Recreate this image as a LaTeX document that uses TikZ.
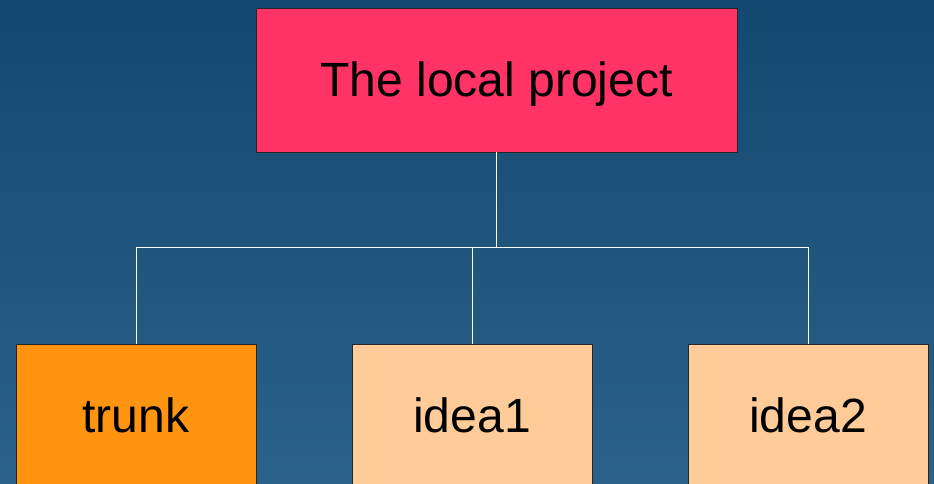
\documentclass[tikz,border=0pt]{standalone}
\usepackage{fontspec}
\setmainfont{Liberation Sans}
\definecolor{bgtop}{HTML}{134870}
\definecolor{bgbottom}{HTML}{2B628A}
\definecolor{rootpink}{HTML}{FF3366}
\definecolor{trunkorange}{HTML}{FF9410}
\definecolor{ideapeach}{HTML}{FFCC99}
\begin{document}
\begin{tikzpicture}[x=0.03cm, y=-0.03cm,
  every node/.style={draw=black!85, line width=0.6pt, text=black,
    font=\fontsize{41}{49}\selectfont, text height=29pt, text depth=0pt,
    minimum height=4.32cm, inner sep=0pt},
  link/.style={draw=white, line width=0.7pt}
]
    \clip (0,0) rectangle (934,484);
    \shade[top color=bgtop, bottom color=bgbottom] (0,0) rectangle (934,484);
    \node[fill=rootpink, minimum width=14.43cm] (root) at (496.5,80) {The local project};
    \node[fill=trunkorange, minimum width=7.2cm] (trunk) at (136,416) {trunk};
    \node[fill=ideapeach, minimum width=7.2cm] (idea1) at (472,416) {idea1};
    \node[fill=ideapeach, minimum width=7.2cm] (idea2) at (808,416) {idea2};
    \coordinate (fork) at (496.5,247);
    \draw[link] (root) -- (fork);
    \draw[link] (trunk) |- (fork);
    \draw[link] (idea1) |- (fork);
    \draw[link] (idea2) |- (fork);
\end{tikzpicture}
\end{document}
